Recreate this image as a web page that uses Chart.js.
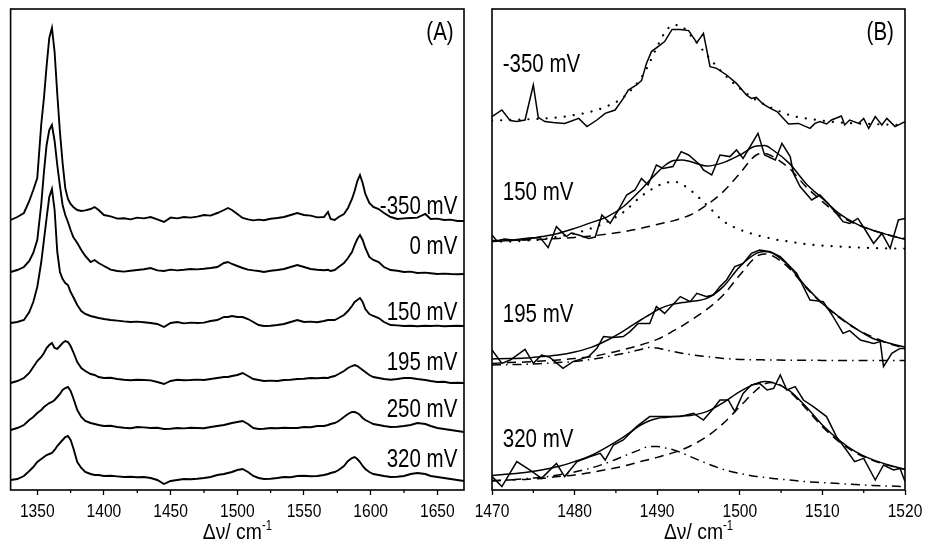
<!DOCTYPE html>
<html>
<head>
<meta charset="utf-8">
<script src="https://cdn.jsdelivr.net/npm/chart.js@4.4.0/dist/chart.umd.min.js"></script>
<style>
  body { margin: 0; background: #fff; }
  #boxA { position: absolute; left: 0; top: 0; width: 470px; height: 542px; }
  #boxB { position: absolute; left: 470px; top: 0; width: 458px; height: 542px; }
</style>
</head>
<body>
<div id="boxA"><canvas id="spectraA"></canvas></div>
<div id="boxB"><canvas id="spectraB"></canvas></div>
<script>
// ---- panel A: full spectra, one trace per potential (intensity above its own baseline)
const waveA = [1330,1335,1340,1344,1347,1350,1353,1355,1357,1359,
  1361,1363,1365,1367,1369,1371,1373,1375,1377,1380,
  1383,1386,1390,1393,1396,1400,1405,1410,1415,1420,
  1425,1430,1435,1440,1445,1450,1455,1460,1465,1470,
  1475,1480,1485,1490,1493,1496,1500,1504,1508,1512,
  1516,1520,1525,1530,1535,1540,1545,1550,1555,1560,
  1565,1568,1570,1573,1576,1580,1583,1586,1588,1590,
  1592,1594,1596,1599,1602,1606,1610,1615,1620,1625,
  1630,1635,1641,1645,1650,1655,1660,1665,1670];

const m350A = [0,1.5,3.5,9.5,15,21,48,61,77,91,
  96,84,63,44,28.5,16,10.5,8,6.5,5,
  4.5,4.8,5.5,6.5,5,2.5,1.8,0.7,0.9,0.3,
  1.2,0.8,1.5,0.3,-1,1.2,0.8,1.5,1.2,1.7,
  2.5,2.2,3.5,5,6,5,3,1,0.3,-0.2,
  0.2,-0.1,0.6,1,1.5,2.5,3.5,2.5,2.2,1.3,
  1.5,4,0.5,0,1.5,3,6,10.5,14.5,19.5,
  22.5,18.5,13,8.5,6.5,5.5,3.5,1.5,0.5,0.8,
  1,1.2,3,0.5,0.7,0,0.2,-0.5,-0.5];
const m0A = [0,1,2.5,5.5,9.5,16,34,50,63.5,71,
  73.5,65.5,53.5,43,33.5,28.5,25,21,17.5,14.5,
  11,8,5,6,4.5,3,1.2,0.5,0.2,0.6,
  1,1.4,2,0.8,0.5,1.2,0.8,1.1,1.5,1.3,
  1.6,2,2.5,4.5,5,4,3,2,1.2,0.8,
  0.5,0,0.6,1,1.5,2.5,3.5,2.5,1.5,1.1,
  0.9,1.1,0.5,1,2.5,4.5,7,10,13.5,16.5,
  18.5,16,12,7.5,6,5,2.5,1,0.6,0,
  0.2,-0.5,-0.3,-0.6,-1,-0.8,-1,-1.1,-1];
const m150A = [0,0.5,1.5,5.5,10.5,18,30.5,41.5,52.5,63,
  67,56.5,35.5,25.5,22,20,19,15.5,13,9,
  6,4.5,3.5,3,2.5,2,1.5,1.2,0.8,0.5,
  0.7,0.4,0,-0.5,-2,0,0.5,-0.2,0.2,0,
  0.2,1,1.5,3,3,3.5,3,3,2,0.5,
  -1,-1.5,-1.4,-1,-0.5,0.5,1.5,0.5,0.7,0.4,
  1,1.5,1.5,1.5,2.5,4,6,8.5,10.5,11.5,
  12.5,10.5,7,4.5,3.5,2.5,0.5,-1,-1.2,-1.5,
  -1.4,-1.6,-1.4,-1.5,-1.3,-1.6,-1.5,-1.4,-1.5];
const m195A = [-1,0,1.5,4,7,10,12,14,16.5,18,
  19,16.5,16,17.5,19,20,19.5,17.5,14.5,9.5,
  6.5,5,3.5,3,2,1.5,1.6,1,0.6,0.4,
  0.6,0.5,0.3,-0.5,-1.5,0,0.6,0.4,0.5,0.7,
  0.5,1,1.5,2,2,2.5,3,4,2.5,1,
  0.5,0,0.2,0,0.5,0.6,1,1.1,1.5,1.4,
  1.6,1.5,2,2.5,3.5,5,6.5,7.5,8,7.5,
  6.5,5.5,4.5,3,2,1.5,1,0.6,1,1.5,
  1.5,1,0.5,0,-0.5,-0.4,-1,-0.9,-1];
const m250A = [-0.5,0.5,2,4.5,6,8,9.5,11,12,13,
  13.5,14.5,16,17.5,19.5,20.5,21,19,15.5,9.5,
  6,4,3,2.5,2,1.5,1.6,1,0.6,0.4,
  1,0.8,0.5,0.6,0,0.1,0.5,0.3,0.6,0.5,
  0.4,1,1.5,2,2.5,3,3.5,4,2.5,0.5,
  0,0.1,0.5,0.4,0.6,0.5,0.5,1,0.9,1.5,
  1.5,2,2.5,3,4,6,7.5,8.5,8.5,8,
  7,5.5,4.5,3.5,2.5,2,1.5,1,1.1,1.5,
  2,3,2.5,1.5,0.5,0,-0.5,-1,-1.5];
const m320A = [0,0.5,2,4.5,6.5,9,10.5,11.5,12.5,13,
  13.5,15,17,18.5,20,21.5,22,20,16,9,
  6,4,3,2.5,2.5,2,2.1,1.8,1.5,1.6,
  1.4,1.5,1,0,-2,-0.5,0,0.5,0.4,0.6,
  1,1.5,2.5,3,3.5,4,5,5.5,4,2,
  1,0.5,0.6,1,1.5,1.4,2,2.1,1.9,2,
  2.5,3,3.5,4,5,7,9.5,11,11.5,10.5,
  9,7,5.5,4,3,2.5,2,1.5,1.6,2,
  3,3.5,3,2,1.5,1,0.5,0,-0.5];

const tracesA = [m350A, m0A, m150A, m195A, m250A, m320A];
const offsetsA = [135, 109, 83.5, 54.5, 30.5, 5];
const potentialsA = ['-350 mV', '0 mV', '150 mV', '195 mV', '250 mV', '320 mV'];

// ---- panel B: 1470-1520 region, raw points and band fits
const r350X = [1470,1471.2,1472.2,1473,1474,1475,1475.6,1476.4,1477.4,1478.8,
  1480.5,1481.5,1482.7,1483.7,1484.9,1485.9,1486.5,1487.5,1488.1,1488.7,
  1489.3,1490.1,1490.9,1491.8,1492.8,1493.8,1494.8,1495.6,1496.4,1497.2,
  1498.4,1499.6,1500.8,1501.4,1502,1502.8,1503.7,1504.5,1505.9,1507.1,
  1508.5,1509.1,1509.7,1510.5,1511.1,1512.3,1512.7,1513.3,1514.4,1515,
  1515.6,1516.4,1517.2,1517.8,1518.8,1520];
const r350Y = [2.7,6,0.7,0.2,1,18.5,2.3,0.2,-0.3,-0.7,
  1.8,-2.3,1,4.3,6,11.8,16,18.5,20.7,29.3,
  35.2,37.7,40.2,46.3,46.3,45.7,39.7,44.3,27.7,26.8,
  23.5,19.3,13.5,11.8,12.3,9,6.8,5.2,-1,-0.7,
  -3.2,-0.7,0.2,-1,1,3,-1.5,1,-0.7,1.8,
  -3.2,2.7,-1.5,1.8,-2.3,0.2];

const r150X = [1470,1470.6,1471.5,1472.5,1473.5,1474.5,1475.8,1476.8,1477.8,1479,
  1479.6,1480.5,1481.7,1482.5,1483.3,1484.3,1485.3,1486.3,1487.3,1488.1,
  1488.9,1489.9,1490.7,1491.9,1492.9,1493.8,1495.2,1495.6,1496.6,1497.6,
  1498.8,1499.6,1500.4,1502.2,1503,1504.3,1505.1,1506.1,1506.5,1507.3,
  1508.7,1509.7,1510.7,1511.7,1512.5,1513.3,1514.3,1515.2,1516.2,1517.2,
  1518.2,1519.2,1520];
const r150Y = [2.5,-0.5,0.5,0,0.5,1,1.3,-3.8,6.7,1.7,
  3.5,2.5,0.8,1.5,12.5,8.3,15,22.5,25,30.8,
  27.5,37.5,35.8,36.7,44.2,42.5,37.5,35,32.5,42.5,
  41.7,45,40.8,53.3,42.5,40,48.3,41.7,33.3,26.7,
  20,22.5,18.3,13.3,9.2,8.3,10.8,5,-1.7,3.3,
  -4.2,10,10.8];

const r195X = [1470,1471.2,1472.2,1474,1475,1476,1477,1478.6,1479.8,1481.7,
  1482.7,1483.5,1484.7,1485.9,1486.7,1487.7,1489.1,1489.9,1490.9,1492.8,
  1494,1494.8,1496,1496.8,1497.6,1498.4,1499.4,1500.4,1501.4,1502.4,
  1503.7,1504.9,1505.9,1506.9,1508.5,1510.1,1511.3,1512.5,1513.3,1514.6,
  1516.2,1517,1517.4,1518.4,1519.4,1520];
const r195Y = [5,-1.7,0,5.3,-1.7,2.5,1.3,-4.2,-0.8,1.7,
  5.8,11.7,11.3,11.7,14.2,18.3,18.3,26.7,23.3,31.7,
  29.2,33.3,31.7,32.5,36.7,40,46.7,48.3,53.3,55,
  54.2,51.7,47.5,43.3,30,29.2,21.7,13.3,14.7,10,
  8.3,9.2,-3.3,3.3,5.8,5.8];

const r320X = [1470,1471.2,1473,1474.6,1476,1477.8,1478.8,1480.3,1481.9,1483.1,
  1483.7,1484.7,1485.9,1487.5,1489.1,1490.7,1492.8,1494.4,1495.6,1496.8,
  1497.6,1498.6,1499.4,1500.4,1501.4,1502.4,1503.3,1504.1,1504.9,1505.7,
  1506.7,1507.7,1508.9,1510.5,1511.7,1512.9,1513.9,1515,1516.4,1517.4,
  1518.6,1519.4,1520];
const r320Y = [4.7,-0.3,12.2,8,3.8,11.3,4.7,12.2,14.7,16.3,
  13,20.5,23,29.7,34.7,34.7,34.7,36.3,33,38.8,
  43,43,37.2,46.3,50.5,51.3,48,48.8,55.5,48,
  49.7,43,39.7,34.7,24.7,18,12.2,13.8,3,10.5,
  8,8.8,2.2];

// fitted curves, all sampled on one grid
const fitX = [1470,1472,1474,1476,1478,1480,1482,1484,1486,1488,
  1489,1490,1491,1492,1493,1494,1496,1498,1500,1502,
  1503,1504,1506,1508,1510,1512,1514,1516,1518,1520];
const fit350 = [0.7,1,1.3,1.7,2.3,3.5,5.2,8,12.7,21.8,
  29,37.7,45.2,48.5,47.7,43.5,33.5,24.3,16.8,11,
  8.8,6.8,3.5,1.8,0.7,-0.2,-0.7,-1,-1.3,-1.5];
const fit150 = [-0.8,-0.3,0.3,1.7,3.3,5.8,8.7,11.7,17,25,
  29.5,33.7,37.5,39.7,40,39.2,37,38.7,42.5,47,
  47.2,45,38.3,28.3,20.8,13.3,8.3,5,2.5,0.3];
const dot150 = [-0.8,-0.8,-0.3,0.3,1.7,3.3,5.8,9.2,14.2,21.7,
  24.5,27,28.5,29.2,27.8,25,17.5,9.5,5.2,2.5,
  1.5,0.5,-0.8,-2,-2.8,-3.3,-3.7,-4,-4.2,-4.3];
const dash150 = [-0.3,-0.2,0,0.3,0.8,1.3,2,3,4.2,5.8,
  6.8,7.8,8.7,9.7,11,12.5,17.5,24.2,33.3,42.5,
  43.3,41.7,35.8,26.7,19.2,12.5,8,5,2.5,0.7];
const fit195 = [0.5,0.7,1,1.7,2.5,4,6.3,10,14.7,20,
  22.5,25,26.8,28,28.7,29.2,30.8,36.7,46.7,53.3,
  54.2,53.3,46.7,36.7,28.3,21.7,15.8,11,8.5,6.5];
const dash195 = [-1.7,-1.3,-1,-0.5,0,0.7,1.7,3.3,5.3,7.5,
  8.8,10.3,12.3,14.7,17,19.7,25.3,32.5,42.5,51.7,
  53,52,45.8,36.3,28,21.3,15.8,11.7,8.3,5.8];
const dd195 = [-2.5,-2.3,-2.2,-1.8,-1.3,-0.7,0.3,1.7,3.3,5.3,
  6.3,6,5.1,4.2,3.4,2.7,1.7,0.8,0.3,0.1,
  0.05,0,-0.1,-0.1,-0.2,-0.2,-0.2,-0.3,-0.3,-0.3];
const fit320 = [5.3,6,6.8,8,9.7,12.2,15.3,19.7,24.7,30.5,
  32.5,33.8,34.3,34.7,35,35.3,37.2,41.7,47.2,51.3,
  52.2,51.7,47.7,39.7,30.5,23,17.2,13.3,10.5,8.3];
const dash320 = [2.7,3,3.3,3.8,4.7,5.5,6.8,8.3,10,12.2,
  13.2,14.3,15.5,16.7,18.2,20,24.7,31.3,39.7,48,
  51,51.7,47.2,38.8,29.7,22.2,16.7,13,10.3,8.3];
const dd320 = [2.5,3,3.7,4.3,5.5,7,9,11.7,15,18.3,
  19.7,19.7,19,18,16.5,14.7,11.3,8.3,6.3,4.8,
  4.3,3.8,3,2.2,1.7,1.2,0.7,0.3,0,-0.3];

const offsetsB = [184, 125, 65, 2];
const potentialsB = ['-350 mV', '150 mV', '195 mV', '320 mV'];

const FONT = "'Liberation Sans', Arial, sans-serif";
const NARROW = 0.82;   // squeeze text horizontally, narrow sans look

function pts(xs, ys, off) {
  return xs.map((x, i) => ({ x: x, y: off + ys[i] }));
}

function lineSet(data, dash, width, smooth) {
  return {
    data: data,
    borderColor: '#000',
    borderWidth: width,
    borderDash: dash || [],
    borderCapStyle: dash && dash[0] < 1 ? 'round' : 'butt',
    pointRadius: 0,
    tension: 0,
    cubicInterpolationMode: smooth ? 'monotone' : 'default'
  };
}

function narrowText(ctx, text, px, py, align, squeeze) {
  const w = ctx.measureText(text).width * squeeze;
  let left = px;
  if (align === 'center') left = px - w / 2;
  else if (align === 'right') left = px - w;
  ctx.save();
  ctx.translate(left, py);
  ctx.scale(squeeze, 1);
  ctx.textAlign = 'left';
  ctx.fillText(text, 0, 0);
  ctx.restore();
  return w;
}

// frame, minor ticks, tick labels, axis title and text labels
const framePlugin = {
  id: 'frame',
  afterDraw(chart, args, o) {
    const ctx = chart.ctx, a = chart.chartArea;
    const x = chart.scales.x, y = chart.scales.y;
    ctx.save();
    ctx.strokeStyle = '#000';
    ctx.lineWidth = 1.6;
    ctx.strokeRect(a.left, a.top, a.right - a.left, a.bottom - a.top);
    ctx.lineWidth = 1.3;
    o.minor.forEach(v => {
      const px = x.getPixelForValue(v);
      ctx.beginPath();
      ctx.moveTo(px, a.bottom);
      ctx.lineTo(px, a.bottom + 3);
      ctx.stroke();
    });
    ctx.fillStyle = '#000';

    // tick labels
    ctx.textBaseline = 'alphabetic';
    ctx.font = '19px ' + FONT;
    x.ticks.forEach(t => {
      narrowText(ctx, String(t.value), x.getPixelForValue(t.value), a.bottom + 27, 'center', NARROW);
    });

    // axis title with superscript
    const cx = (a.left + a.right) / 2;
    ctx.font = '22px ' + FONT;
    const main = 'Δν/ cm';
    const wMain = ctx.measureText(main).width * 0.88;
    ctx.font = '14px ' + FONT;
    const wSup = ctx.measureText('-1').width * 0.8;
    const left = cx - (wMain + wSup) / 2;
    ctx.font = '22px ' + FONT;
    narrowText(ctx, main, left, 539, 'left', 0.88);
    ctx.font = '14px ' + FONT;
    narrowText(ctx, '-1', left + wMain, 530, 'left', 0.8);

    // potentials and panel letters
    ctx.textBaseline = 'middle';
    ctx.font = '25px ' + FONT;
    o.labels.forEach(l => {
      narrowText(ctx, l.text, x.getPixelForValue(l.x), y.getPixelForValue(l.y), l.align, NARROW);
    });
    ctx.restore();
  }
};

function xAxis(min, max, step) {
  return {
    type: 'linear', min: min, max: max,
    afterFit: s => { s.height = 52; },
    grid: { drawOnChartArea: false, drawTicks: true, tickLength: 5, color: '#000', tickWidth: 1.3 },
    border: { display: false },
    ticks: { stepSize: step, includeBounds: false, display: false }
  };
}

function baseOptions(xs, pad, frameOpts) {
  return {
    responsive: true,
    maintainAspectRatio: false,
    animation: false,
    devicePixelRatio: 1,
    layout: { padding: pad },
    plugins: { legend: { display: false }, tooltip: { enabled: false }, frame: frameOpts },
    scales: { x: xs, y: { display: false, min: 0, max: 240.5 } }
  };
}

// panel A
const labelYA = [141.5, 121.5, 88.5, 63.5, 40, 15];
const labelsA = potentialsA.map((t, i) => ({ text: t, x: 1665, y: labelYA[i], align: 'right' }));
labelsA.push({ text: '(A)', x: 1652, y: 228.5, align: 'center' });

new Chart(document.getElementById('spectraA'), {
  type: 'line',
  data: { datasets: tracesA.map((tr, i) => lineSet(pts(waveA, tr, offsetsA[i]), null, 1.9, false)) },
  options: baseOptions(xAxis(1330, 1670, 50), { left: 10.6, right: 6, top: 9, bottom: 0 },
    { minor: [1375, 1425, 1475, 1525, 1575, 1625], labels: labelsA }),
  plugins: [framePlugin]
});

// panel B
const DOT = [0.1, 9], DASH = [9, 6], DASHDOT = [9, 5, 1.5, 5];
const setsB = [
  lineSet(pts(r350X, r350Y, offsetsB[0]), null, 1.5, false),
  lineSet(pts(fitX, fit350, offsetsB[0]), DOT, 2.2, true),

  lineSet(pts(r150X, r150Y, offsetsB[1]), null, 1.5, false),
  lineSet(pts(fitX, fit150, offsetsB[1]), null, 1.5, true),
  lineSet(pts(fitX, dot150, offsetsB[1]), DOT, 2.2, true),
  lineSet(pts(fitX, dash150, offsetsB[1]), DASH, 1.5, true),

  lineSet(pts(r195X, r195Y, offsetsB[2]), null, 1.5, false),
  lineSet(pts(fitX, fit195, offsetsB[2]), null, 1.5, true),
  lineSet(pts(fitX, dash195, offsetsB[2]), DASH, 1.5, true),
  lineSet(pts(fitX, dd195, offsetsB[2]), DASHDOT, 1.5, true),

  lineSet(pts(r320X, r320Y, offsetsB[3]), null, 1.5, false),
  lineSet(pts(fitX, fit320, offsetsB[3]), null, 1.5, true),
  lineSet(pts(fitX, dash320, offsetsB[3]), DASH, 1.5, true),
  lineSet(pts(fitX, dd320, offsetsB[3]), DASHDOT, 1.5, true)
];

const labelYB = [212.5, 148.5, 87.5, 25];
const labelsB = potentialsB.map((t, i) => ({ text: t, x: 1471.3, y: labelYB[i], align: 'left' }));
labelsB.push({ text: '(B)', x: 1517, y: 228.5, align: 'center' });

new Chart(document.getElementById('spectraB'), {
  type: 'line',
  data: { datasets: setsB },
  options: baseOptions(xAxis(1470, 1520, 10), { left: 22, right: 23, top: 9, bottom: 0 },
    { minor: [1475, 1485, 1495, 1505, 1515], labels: labelsB }),
  plugins: [framePlugin]
});
</script>
</body>
</html>
